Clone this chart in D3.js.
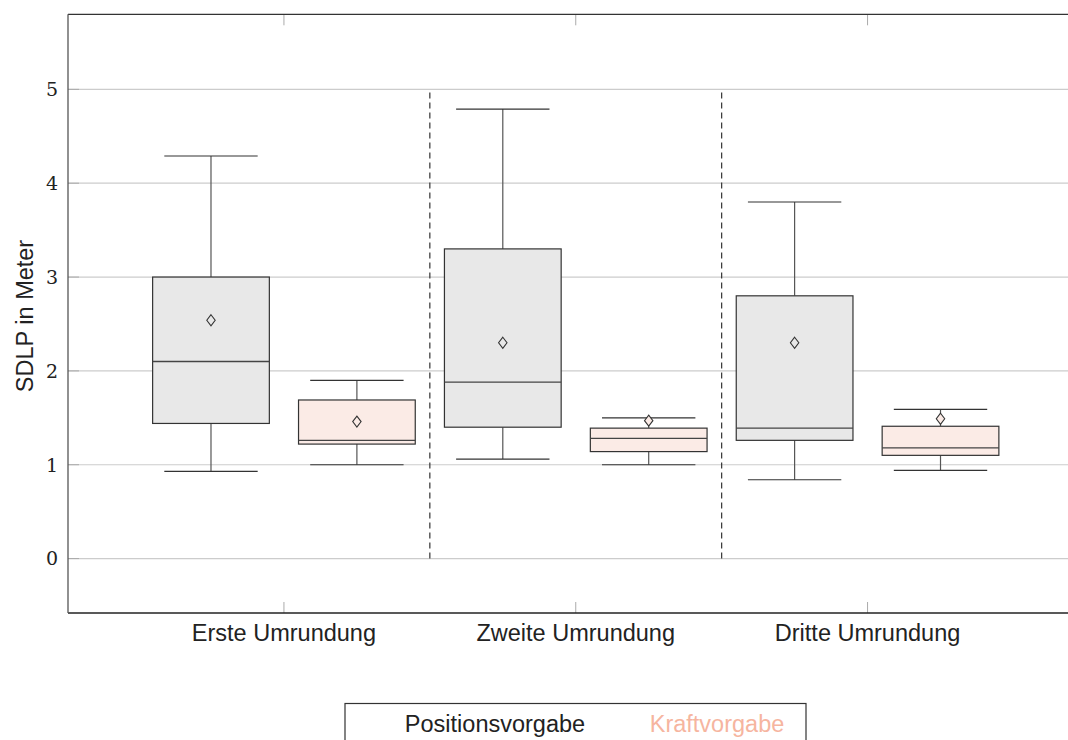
<!DOCTYPE html>
<html>
<head>
<meta charset="utf-8">
<script src="https://cdn.jsdelivr.net/npm/d3@7"></script>
<style>
  html, body { margin: 0; padding: 0; background: #fff; }
  svg { display: block; }
</style>
</head>
<body>
<svg id="chart" width="1068" height="740"></svg>
<script>
const categories = ["Erste Umrundung", "Zweite Umrundung", "Dritte Umrundung"];
const seriesNames = ["Positionsvorgabe", "Kraftvorgabe"];

const posMin  = [0.93, 1.06, 0.84];
const posQ1   = [1.44, 1.40, 1.26];
const posMed  = [2.10, 1.88, 1.39];
const posQ3   = [3.00, 3.30, 2.80];
const posMax  = [4.29, 4.79, 3.80];
const posMean = [2.54, 2.30, 2.30];

const kraftMin  = [1.00, 1.00, 0.94];
const kraftQ1   = [1.22, 1.14, 1.10];
const kraftMed  = [1.26, 1.28, 1.18];
const kraftQ3   = [1.69, 1.39, 1.41];
const kraftMax  = [1.90, 1.50, 1.59];
const kraftMean = [1.46, 1.47, 1.49];

const yTicks = [0, 1, 2, 3, 4, 5];
const separators = [0.5, 1.5];

(function () {
const seriesStyle = [
  { fill: "#e8e8e8", text: "#222222", offset: -0.25 },
  { fill: "#fbebe6", text: "#f6b59f", offset: 0.25 }
];

const seriesData = [
  categories.map((c, i) => ({ i, min: posMin[i], q1: posQ1[i], med: posMed[i], q3: posQ3[i], max: posMax[i], mean: posMean[i] })),
  categories.map((c, i) => ({ i, min: kraftMin[i], q1: kraftQ1[i], med: kraftMed[i], q3: kraftQ3[i], max: kraftMax[i], mean: kraftMean[i] }))
];

const svg = d3.select("#chart");
const pLeft = 68, pTop = 14.3, pBottom = 613, pRight = 1083.5;
const fontSans = "'Liberation Sans', Arial, sans-serif";
const fs = 23.5;

const x = d3.scaleLinear().domain([-0.74, 2.74]).range([pLeft, pRight]);
const y = d3.scaleLinear().domain([-0.58, 5.80]).range([pBottom, pTop]);
const boxW = x(0.4) - x(0);
const capW = boxW * 0.8;

// grid
svg.append("g").selectAll("line").data(yTicks).join("line")
  .attr("x1", pLeft).attr("x2", pRight)
  .attr("y1", d => y(d)).attr("y2", d => y(d))
  .attr("stroke", "#cccccc").attr("stroke-width", 1.2);

// y ticks (inward)
svg.append("g").selectAll("line").data(yTicks).join("line")
  .attr("x1", pLeft).attr("x2", pLeft + 11)
  .attr("y1", d => y(d)).attr("y2", d => y(d))
  .attr("stroke", "#aaaaaa").attr("stroke-width", 1);

// y tick labels
svg.append("g").selectAll("text").data(yTicks).join("text")
  .attr("x", 58).attr("y", d => y(d))
  .attr("dy", "0.36em")
  .attr("text-anchor", "end")
  .attr("font-family", "'DejaVu Serif', serif")
  .attr("font-size", 19)
  .attr("fill", "#222")
  .text(d => d);

// x ticks (top and bottom, inward)
const catIdx = categories.map((c, i) => i);
svg.append("g").selectAll("line").data(catIdx).join("line")
  .attr("x1", d => x(d)).attr("x2", d => x(d))
  .attr("y1", pTop).attr("y2", pTop + 11)
  .attr("stroke", "#aaaaaa");
svg.append("g").selectAll("line").data(catIdx).join("line")
  .attr("x1", d => x(d)).attr("x2", d => x(d))
  .attr("y1", pBottom).attr("y2", pBottom - 11)
  .attr("stroke", "#aaaaaa");

// separators
svg.append("g").selectAll("line").data(separators).join("line")
  .attr("x1", d => x(d)).attr("x2", d => x(d))
  .attr("y1", y(0)).attr("y2", y(5))
  .attr("stroke", "#333").attr("stroke-width", 1.2)
  .attr("stroke-dasharray", "6,4");

// boxes
seriesData.forEach((data, s) => {
  const st = seriesStyle[s];
  const g = svg.append("g");
  const cx = d => x(d.i + st.offset);
  g.selectAll(".stemTop").data(data).join("line").attr("class", "stemTop")
    .attr("x1", cx).attr("x2", cx)
    .attr("y1", d => y(d.q3)).attr("y2", d => y(d.max))
    .attr("stroke", "#555").attr("stroke-width", 1.2);
  g.selectAll(".stemBot").data(data).join("line").attr("class", "stemBot")
    .attr("x1", cx).attr("x2", cx)
    .attr("y1", d => y(d.q1)).attr("y2", d => y(d.min))
    .attr("stroke", "#555").attr("stroke-width", 1.2);
  g.selectAll(".capTop").data(data).join("line").attr("class", "capTop")
    .attr("x1", d => cx(d) - capW / 2).attr("x2", d => cx(d) + capW / 2)
    .attr("y1", d => y(d.max)).attr("y2", d => y(d.max))
    .attr("stroke", "#333").attr("stroke-width", 1.2);
  g.selectAll(".capBot").data(data).join("line").attr("class", "capBot")
    .attr("x1", d => cx(d) - capW / 2).attr("x2", d => cx(d) + capW / 2)
    .attr("y1", d => y(d.min)).attr("y2", d => y(d.min))
    .attr("stroke", "#333").attr("stroke-width", 1.2);
  g.selectAll("rect").data(data).join("rect")
    .attr("x", d => cx(d) - boxW / 2).attr("width", boxW)
    .attr("y", d => y(d.q3)).attr("height", d => y(d.q1) - y(d.q3))
    .attr("fill", st.fill).attr("stroke", "#333").attr("stroke-width", 1.2);
  g.selectAll(".med").data(data).join("line").attr("class", "med")
    .attr("x1", d => cx(d) - boxW / 2).attr("x2", d => cx(d) + boxW / 2)
    .attr("y1", d => y(d.med)).attr("y2", d => y(d.med))
    .attr("stroke", "#444").attr("stroke-width", 1.3);
  g.selectAll("path").data(data).join("path")
    .attr("d", d => {
      const px = cx(d), py = y(d.mean);
      return `M${px},${py - 5.5}L${px + 4.2},${py}L${px},${py + 5.5}L${px - 4.2},${py}Z`;
    })
    .attr("fill", st.fill).attr("stroke", "#333").attr("stroke-width", 1.1);
});

// frame
svg.append("line").attr("x1", pLeft).attr("x2", pRight).attr("y1", pTop).attr("y2", pTop)
  .attr("stroke", "#333").attr("stroke-width", 1.3);
svg.append("line").attr("x1", pLeft).attr("x2", pRight).attr("y1", pBottom).attr("y2", pBottom)
  .attr("stroke", "#222").attr("stroke-width", 1.3);
svg.append("line").attr("x1", pLeft).attr("x2", pLeft).attr("y1", pTop).attr("y2", pBottom)
  .attr("stroke", "#555").attr("stroke-width", 1.3);

// category labels
svg.append("g").selectAll("text").data(categories).join("text")
  .attr("x", (d, i) => x(i)).attr("y", 641)
  .attr("text-anchor", "middle")
  .attr("font-family", fontSans)
  .attr("font-size", fs)
  .attr("fill", "#222")
  .text(d => d);

// y label
svg.append("text")
  .attr("transform", `translate(33, 316) rotate(-90)`)
  .attr("text-anchor", "middle")
  .attr("font-family", fontSans)
  .attr("font-size", fs)
  .attr("fill", "#222")
  .text("SDLP in Meter");

// legend
const legend = svg.append("g");
legend.append("rect")
  .attr("x", 345).attr("y", 703.5).attr("width", 461).attr("height", 60)
  .attr("fill", "#fff").attr("stroke", "#333").attr("stroke-width", 1.2);
const legendX = [495, 717];
legend.selectAll("text").data(seriesNames).join("text")
  .attr("x", (d, i) => legendX[i]).attr("y", 731.5)
  .attr("text-anchor", "middle")
  .attr("font-family", fontSans)
  .attr("font-size", fs)
  .attr("fill", (d, i) => seriesStyle[i].text)
  .text(d => d);
})();
</script>
</body>
</html>
